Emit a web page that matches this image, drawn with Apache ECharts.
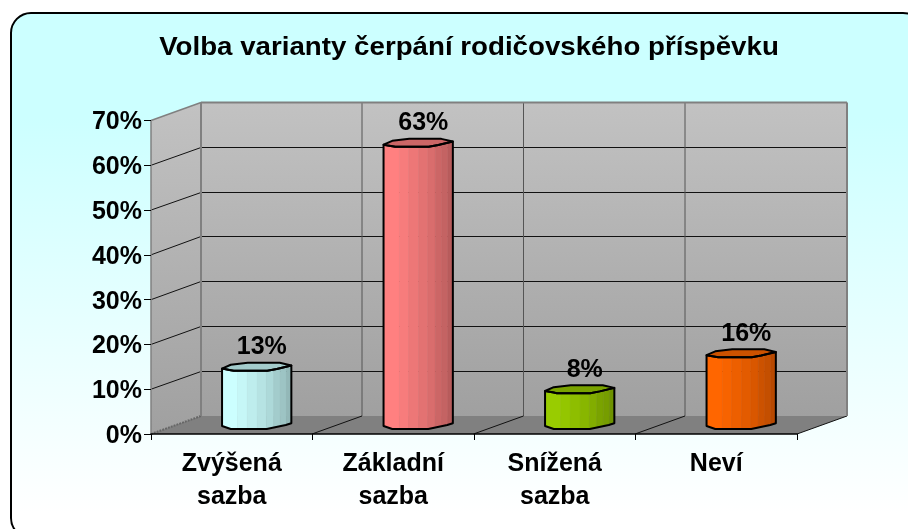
<!DOCTYPE html>
<html><head><meta charset="utf-8">
<style>html,body{margin:0;padding:0;background:#fff}#c{width:908px;height:529px}</style>
<script src="https://cdn.jsdelivr.net/npm/echarts@6/dist/echarts.min.js"></script>
</head><body><div id="c"></div>
<script>
const titleText = 'Volba varianty čerpání rodičovského příspěvku';
const categories = ['Zvýšená\nsazba', 'Základní\nsazba', 'Snížená\nsazba', 'Neví'];
const values = [13, 63, 8, 16];
const yTicks = [0, 10, 20, 30, 40, 50, 60, 70];
const barColors = ['#CCFFFF', '#FF8080', '#99CC00', '#FF6600'];

const FONT = '"Liberation Sans", Arial, sans-serif';
const DX = 50, DY = -18;          // depth of the 3D box
const topFront = [[-34.7,1.8],[-26,3.4],[-23,4],[10.5,4],[20,2.2],[34.6,-1.3]];
const topBack  = [[34.6,-1.3],[23,-4],[-9,-4],[-26,-2],[-34.7,1.8]];
const botFront = [[-34.7,1],[-26,4],[10,4],[29,0],[34.6,-1.7]];
const strips = [-34.7,-19,-9.7,0.3,9.6,17,23.6,29.6,34.6];
const shades = [1,.97,.93,.89,.85,.8,.77,.72];

function shade(hex, f){
  const n = parseInt(hex.slice(1),16);
  return 'rgb(' + [(n>>16)&255,(n>>8)&255,n&255].map(v=>Math.round(v*f)).join(',') + ')';
}
function interp(profile, x){
  for(let i=0;i<profile.length-1;i++){
    const a=profile[i], b=profile[i+1];
    if(x>=a[0]-1e-6 && x<=b[0]+1e-6) return a[1]+(b[1]-a[1])*(x-a[0])/(b[0]-a[0]);
  }
  return profile[profile.length-1][1];
}
function poly(points, style, z2){ return {type:'polygon',shape:{points},style,z2:z2||0}; }
function line(x1,y1,x2,y2,stroke,w,extra){
  return {type:'line',shape:{x1,y1,x2,y2},style:Object.assign({stroke,lineWidth:w||1,fill:null},extra||{})};
}

function renderFrame(params, api){
  const g = params.coordSys;
  const L=g.x, R=g.x+g.width, T=g.y, B=g.y+g.height;
  const wallFill = {type:'linear',x:0,y:0,x2:0,y2:1,colorStops:[{offset:0,color:'#c2c2c2'},{offset:1,color:'#a0a0a0'}]};
  const kids = [];
  kids.push(poly([[L+DX,T+DY],[R+DX,T+DY],[R+DX,B+DY],[L+DX,B+DY]],{fill:wallFill}));
  kids.push(poly([[L,T],[L+DX,T+DY],[L+DX,B+DY],[L,B]],{fill:wallFill}));
  kids.push(poly([[L,B],[L+DX,B+DY],[R+DX,B+DY],[R,B]],{fill:'#808080'}));
  yTicks.forEach(t=>{
    if(t===0 || t===yTicks[yTicks.length-1]) return;
    const y = api.coord([0,t])[1];
    const by = Math.floor(y+DY)+.5;
    kids.push(line(L,y,L+DX,by,'#111',1));
    kids.push(line(L+DX,by,R+DX,by,'#111',1));
  });
  categories.forEach((c,i)=>{
    if(i===0) return;
    const x = L+g.width*i/categories.length;
    kids.push(line(x+DX-.5,T+DY,x+DX-.5,B+DY,'#555',1));
    kids.push(line(x-.5,B,x+DX-.5,B+DY,'#111',1));
  });
  kids.push(line(R,B,R+DX,B+DY,'#111',1));
  kids.push(line(L,B,L+DX,B+DY,'#666',2,{lineDash:[2,1]}));
  kids.push(line(L+DX,T+DY,L+DX,B+DY,'#808080',2));
  kids.push(line(R+DX,T+DY,R+DX,B+DY,'#808080',2));
  kids.push(line(L+DX,T+DY,R+DX,T+DY,'#808080',2));
  kids.push(line(L,T,L+DX,T+DY,'#808080',1.5));
  kids.push(line(L,T,L,B,'#808080',1.5));
  return {type:'group',children:kids};
}

function renderBar(params, api){
  const i = api.value(0), v = api.value(1);
  const top = api.coord([i,v]), base = api.coord([i,0]);
  const cx = top[0]+DX/2, yT = top[1]+DY/2, yB = base[1]+DY/2;
  const col = barColors[i];
  const kids = [];
  const at = (p,y)=>[cx+p[0],y+p[1]];
  for(let s=0;s<strips.length-1;s++){
    const a=strips[s], b=strips[s+1];
    const pts=[[cx+a,yT+interp(topFront,a)]];
    topFront.forEach(p=>{ if(p[0]>a&&p[0]<b) pts.push(at(p,yT)); });
    pts.push([cx+b,yT+interp(topFront,b)]);
    pts.push([cx+b,yB+interp(botFront,b)]);
    botFront.slice().reverse().forEach(p=>{ if(p[0]>a&&p[0]<b) pts.push(at(p,yB)); });
    pts.push([cx+a,yB+interp(botFront,a)]);
    kids.push(poly(pts,{fill:shade(col,shades[s]),stroke:shade(col,shades[s]),lineWidth:.5}));
  }
  const ring = topFront.map(p=>at(p,yT)).concat(topBack.slice(1,-1).map(p=>at(p,yT)));
  kids.push(poly(ring,{fill:shade(col,.8),stroke:'#000',lineWidth:2,lineJoin:'round'}));
  const outline = topFront.map(p=>at(p,yT));
  const body = outline.concat(botFront.slice().reverse().map(p=>at(p,yB)));
  kids.push(poly(body,{fill:'none',stroke:'#000',lineWidth:2,lineJoin:'round'}));
  kids.push({type:'text',z2:10,style:{text:v+'%',x:cx+5,y:yT-19.5,align:'center',verticalAlign:'middle',
    font:'bold 25px '+FONT,fill:'#000'}});
  return {type:'group',children:kids};
}

const chart = echarts.init(document.getElementById('c'),null,{renderer:'canvas'});
chart.setOption({
  animation:false,
  backgroundColor:'#fff',
  graphic:[
    {type:'rect',z:-100,silent:true,shape:{x:11,y:13,width:912,height:525,r:20},
    style:{stroke:'#000',lineWidth:2,
      fill:{type:'linear',x:0,y:0,x2:0,y2:1,colorStops:[
        {offset:0,color:'#ccffff'},{offset:.2,color:'#ccffff'},{offset:.95,color:'#ffffff'},{offset:1,color:'#ffffff'}]}}},
    {type:'text',z:10,silent:true,x:469,y:47.5,scaleX:1.065,
      style:{text:titleText,align:'center',verticalAlign:'middle',font:'bold 26px '+FONT,fill:'#000'}}
  ],
  grid:{left:151,right:111,top:120.5,bottom:95,containLabel:false},
  xAxis:{type:'category',data:categories,z:3,
    axisLine:{show:true,lineStyle:{color:'#000',width:1.5}},
    axisTick:{show:true,length:6,lineStyle:{color:'#000'}},
    axisLabel:{fontFamily:FONT,fontWeight:'bold',fontSize:25,color:'#000',lineHeight:33,margin:14,interval:0},
    splitLine:{show:false}},
  yAxis:{type:'value',min:0,max:70,interval:10,z:3,
    axisLine:{show:false},
    axisTick:{show:true,length:7,lineStyle:{color:'#000'}},
    axisLabel:{fontFamily:FONT,fontWeight:'bold',fontSize:25,color:'#000',margin:9,verticalAlign:'top',lineHeight:4,formatter:'{value}%'},
    splitLine:{show:false}},
  series:[
    {type:'custom',name:'frame',coordinateSystem:'cartesian2d',z:1,silent:true,clip:false,data:[[0,0]],renderItem:renderFrame},
    {type:'custom',name:'values',coordinateSystem:'cartesian2d',z:5,silent:true,clip:false,
      data:values.map((v,i)=>[i,v]),encode:{x:0,y:1},renderItem:renderBar}
  ]
});
</script></body></html>
